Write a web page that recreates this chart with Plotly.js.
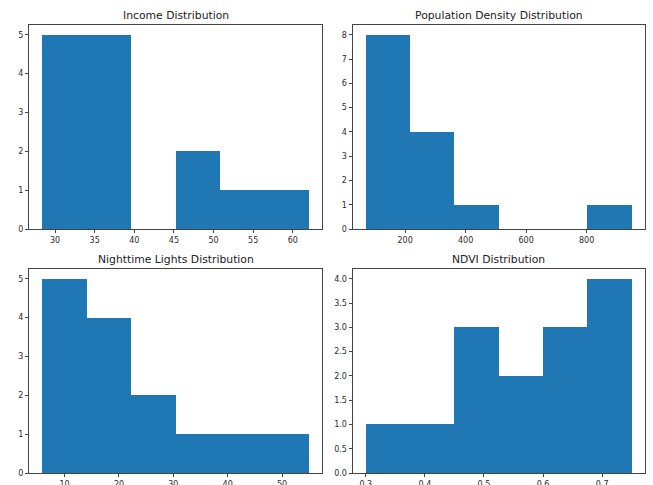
<!DOCTYPE html>
<html>
<head>
<meta charset="utf-8">
<script src="https://cdn.plot.ly/plotly-3.0.1.min.js"></script>
<style>html,body{margin:0;padding:0;background:#fff;}#chart{width:653px;height:485px;}</style>
</head>
<body>
<div id="chart"></div>
<script>
// Histogram bin edges and counts
const titles = ["Income Distribution", "Population Density Distribution", "Nighttime Lights Distribution", "NDVI Distribution"];
const incomeEdges = [28.4, 34.0, 39.6, 45.2, 50.8, 56.4, 62.0];
const incomeCounts = [5, 5, 0, 2, 1, 1];
const popEdges = [70, 216.5, 363, 509.5, 656, 802.5, 949];
const popCounts = [8, 4, 1, 0, 0, 1];
const nightEdges = [5.9, 14.07, 22.23, 30.4, 38.57, 46.73, 54.9];
const nightCounts = [5, 4, 2, 1, 1, 1];
const ndviEdges = [0.3, 0.375, 0.45, 0.525, 0.6, 0.675, 0.75];
const ndviCounts = [1, 1, 3, 2, 3, 4];

const panels = [
  {edges: incomeEdges, counts: incomeCounts, dtick: 5, ydtick: 1, yfmt: "d"},
  {edges: popEdges, counts: popCounts, dtick: 200, ydtick: 1, yfmt: "d"},
  {edges: nightEdges, counts: nightCounts, dtick: 10, ydtick: 1, yfmt: "d"},
  {edges: ndviEdges, counts: ndviCounts, dtick: 0.1, ydtick: 0.5, yfmt: ".1f"}
];

const W = 653, H = 485;
const xDom = [[29/W, 322/W], [352.5/W, 645/W]];
const yDom = [[1 - 229/H, 1 - 25/H], [1 - 473/H, 1 - 269/H]];

const traces = [];
const layout = {
  width: W, height: H,
  margin: {l: 0, r: 0, t: 0, b: 0},
  paper_bgcolor: "#fff", plot_bgcolor: "#fff",
  showlegend: false, bargap: 0,
  font: {family: "DejaVu Sans", color: "#222"},
  annotations: []
};

panels.forEach((p, i) => {
  const n = i + 1;
  const xa = n === 1 ? "x" : "x" + n;
  const ya = n === 1 ? "y" : "y" + n;
  const mids = [], widths = [];
  for (let k = 0; k < p.counts.length; k++) {
    mids.push((p.edges[k] + p.edges[k + 1]) / 2);
    widths.push(p.edges[k + 1] - p.edges[k]);
  }
  traces.push({
    type: "bar", x: mids, y: p.counts, width: widths,
    xaxis: xa, yaxis: ya,
    marker: {color: "#1f77b4", line: {width: 0}},
    hoverinfo: "skip"
  });
  const lo = p.edges[0], hi = p.edges[p.edges.length - 1];
  const m = (hi - lo) * 0.05;
  const ymax = Math.max(...p.counts) * 1.05;
  const col = i % 2, row = Math.floor(i / 2);
  const axCommon = {
    showline: true, mirror: true, linecolor: "#444", linewidth: 1,
    showgrid: false, zeroline: false,
    ticks: "outside", ticklen: 3, tickcolor: "#444", tickwidth: 1,
    tickfont: {family: "DejaVu Sans", size: 8, color: "#2a2a2a"},
    fixedrange: true
  };
  layout["xaxis" + (n === 1 ? "" : n)] = Object.assign({}, axCommon, {
    domain: xDom[col], anchor: ya, range: [lo - m, hi + m], autorange: false,
    tick0: 0, dtick: p.dtick
  });
  layout["yaxis" + (n === 1 ? "" : n)] = Object.assign({}, axCommon, {
    domain: yDom[row], anchor: xa, range: [0, ymax], autorange: false,
    tick0: 0, dtick: p.ydtick, tickformat: p.yfmt
  });
  layout.annotations.push({
    text: titles[i], xref: xa + " domain", yref: ya + " domain",
    x: 0.5, y: 1, xanchor: "center", yanchor: "bottom", yshift: 1,
    showarrow: false, font: {family: "DejaVu Sans", size: 10.8, color: "#222"}
  });
});

Plotly.newPlot("chart", traces, layout, {staticPlot: true, displayModeBar: false});
</script>
</body>
</html>
